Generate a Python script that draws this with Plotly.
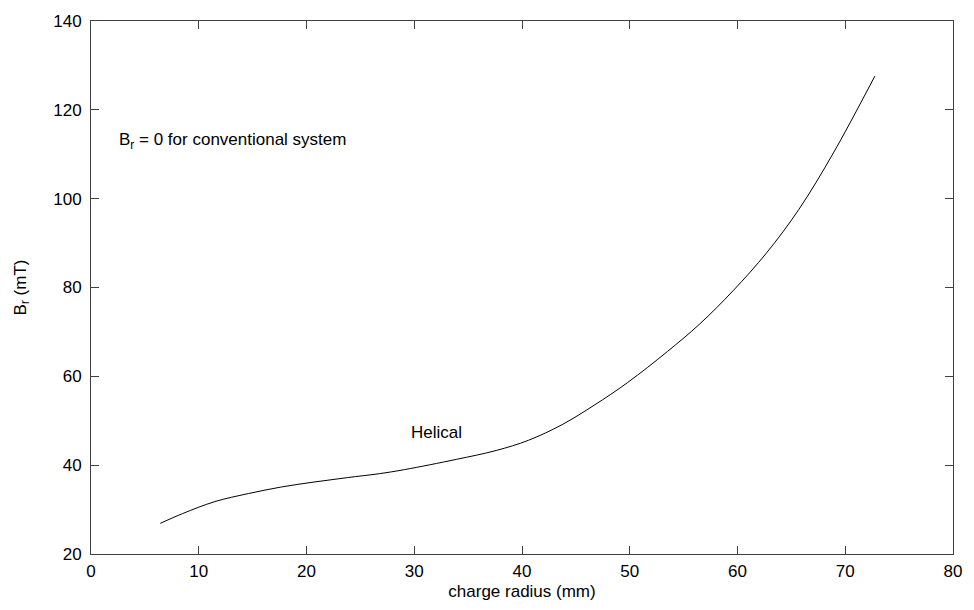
import plotly.graph_objects as go

radius_mm = [6.43, 8.5, 11.5, 14.6, 17.7, 20.7, 23.8, 26.8, 29.1, 33.9, 37.6,
             40.6, 43.7, 46.7, 49.8, 53.5, 56.5, 59.6, 62.7, 65.7, 68.9, 72.75]
br_mT = [26.9, 29.1, 31.8, 33.6, 35.1, 36.2, 37.2, 38.1, 39.0, 41.3, 43.3,
         45.6, 49.1, 53.5, 58.6, 65.6, 71.8, 79.3, 87.8, 97.6, 110.3, 127.6]

x_ticks = [0, 10, 20, 30, 40, 50, 60, 70, 80]
y_ticks = [20, 40, 60, 80, 100, 120, 140]

tick_font = dict(family="Liberation Sans, Arial, sans-serif", size=17, color="#000000")
text_font = dict(family="Liberation Sans, Arial, sans-serif", size=17, color="#000000")

fig = go.Figure()
fig.add_trace(go.Scatter(x=radius_mm, y=br_mT, mode="lines",
                         line=dict(color="#000000", width=1, shape="spline", smoothing=1.0),
                         showlegend=False, hoverinfo="skip"))

fig.add_annotation(x=32.05, y=47.4, text="Helical", showarrow=False, font=text_font,
                   xanchor="center", yanchor="middle")
fig.add_annotation(x=2.4, y=113.0, text="B<sub>r</sub> = 0 for conventional system", showarrow=False,
                   font=text_font, xanchor="left", yanchor="middle")

axis_common = dict(showgrid=False, zeroline=False, showline=True, linecolor="#404040", linewidth=1,
                   mirror="allticks", ticks="inside", ticklen=8, tickcolor="#404040", tickwidth=1,
                   tickfont=tick_font, ticklabeloverflow="allow")

fig.update_xaxes(range=[0, 80], tickvals=x_ticks, ticktext=[str(v) for v in x_ticks],
                 ticklabelstandoff=2,
                 title=dict(text="charge radius (mm)", font=text_font, standoff=4), **axis_common)
fig.update_yaxes(range=[20, 140], tickvals=y_ticks, ticktext=[str(v) for v in y_ticks],
                 ticklabelstandoff=5,
                 title=dict(text="B<sub>r</sub> (mT)", font=text_font, standoff=22), **axis_common)

# page body has an 8px margin; keep the whole page inside the 974x610 window
fig.update_layout(width=958, height=594, margin=dict(l=83, r=4, t=12, b=48),
                  paper_bgcolor="white", plot_bgcolor="white", font=text_font)

fig.write_html("out.html")
